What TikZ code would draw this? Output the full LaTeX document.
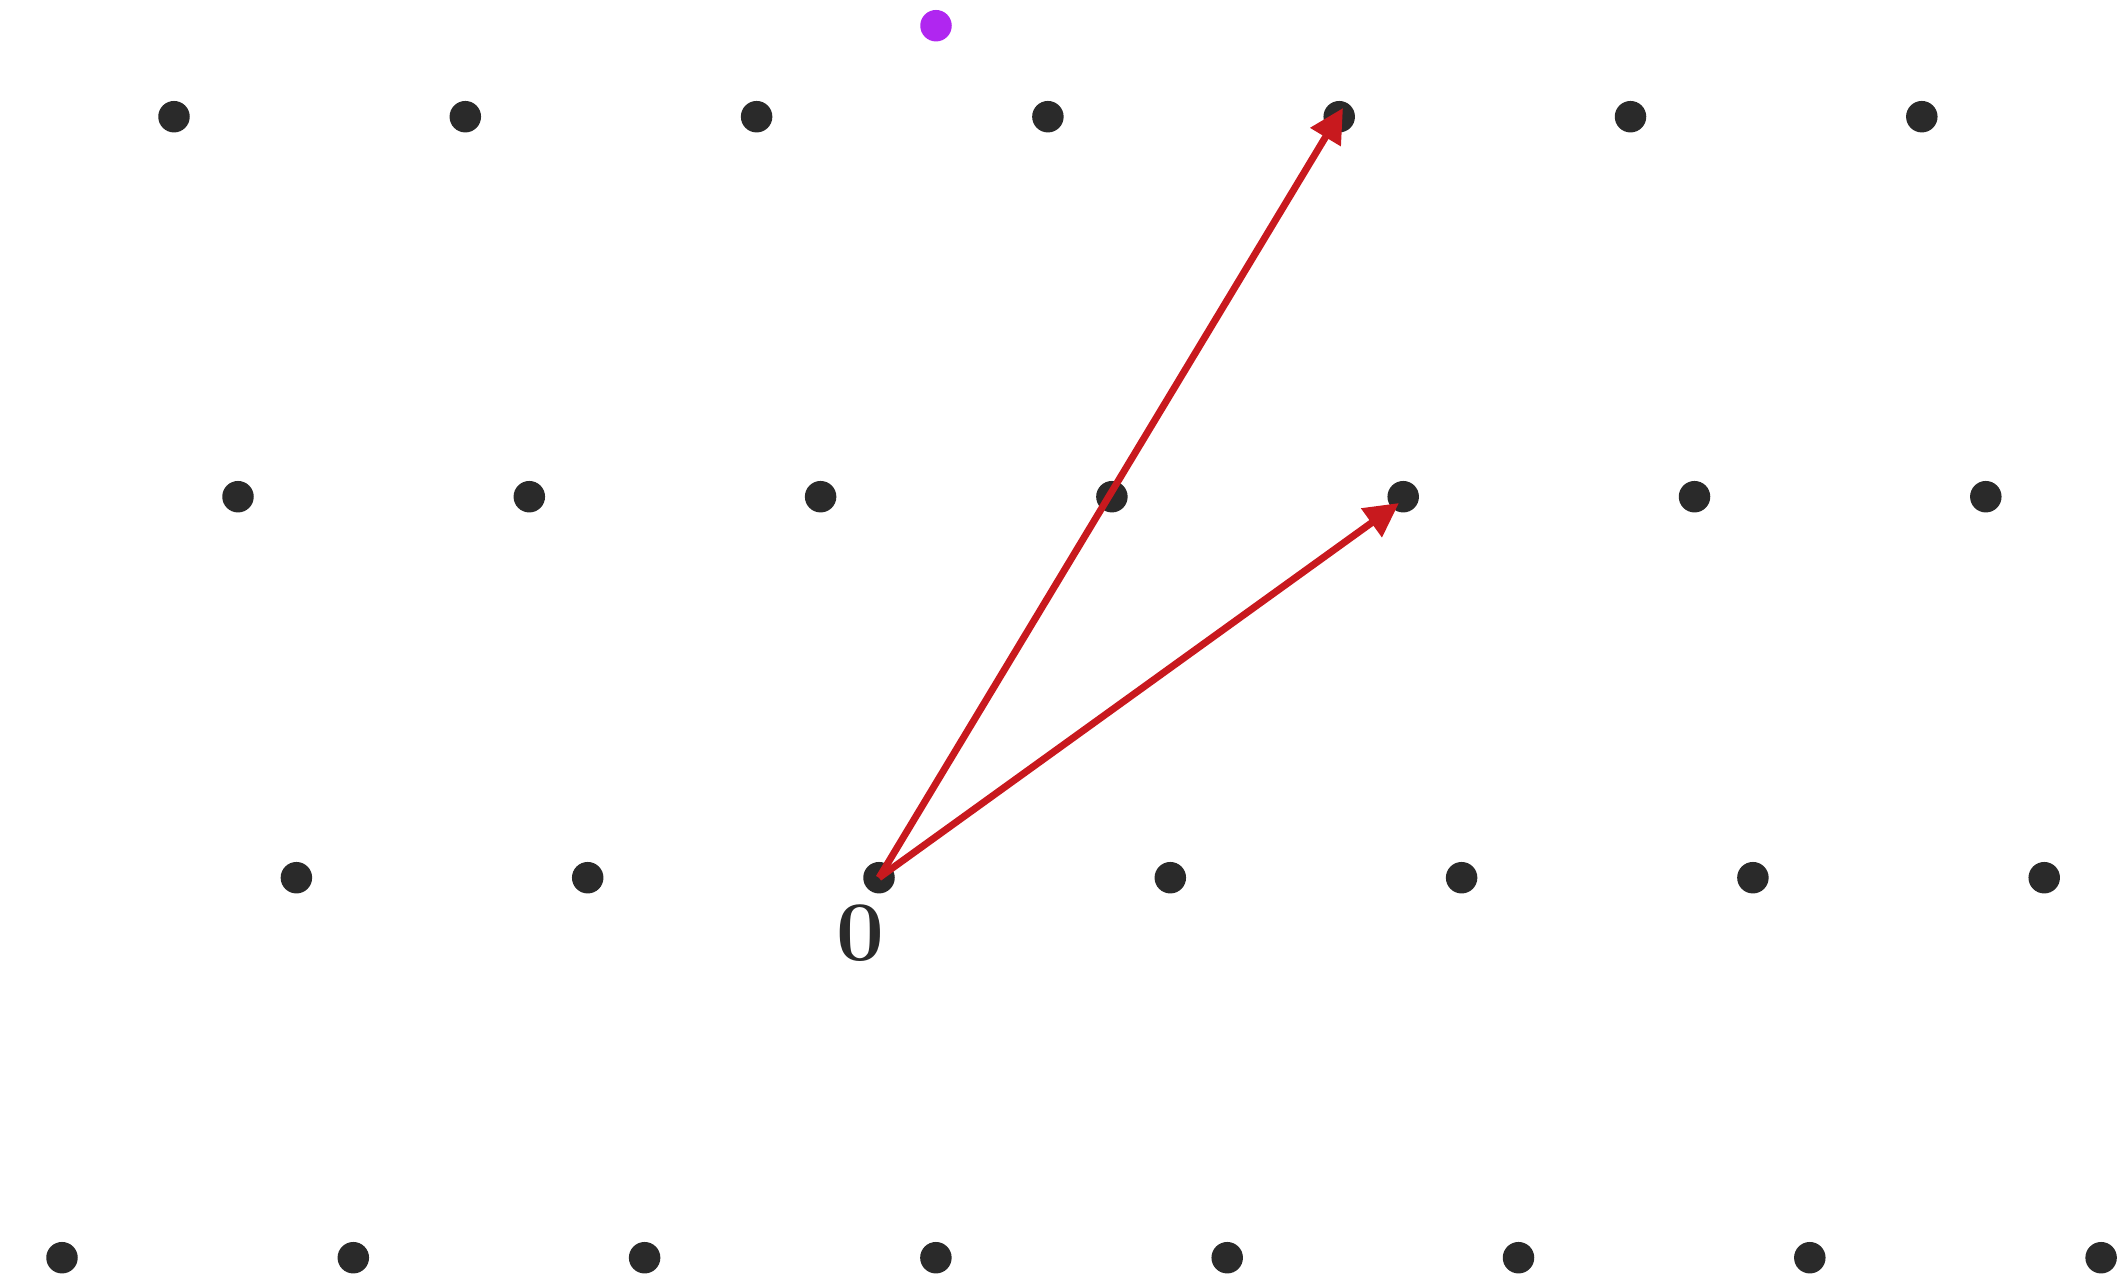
\documentclass[tikz,border=0pt]{standalone}
\usetikzlibrary{arrows.meta}
\definecolor{dotc}{HTML}{2A2A2A}
\definecolor{purp}{HTML}{B026F0}
\definecolor{arr}{HTML}{C8191E}
\begin{document}
\begin{tikzpicture}[x=1pt,y=-1pt,
  pt/.style={circle,fill=dotc,inner sep=0pt,minimum size=31.5pt},
  vec/.style={draw=arr,line width=7pt,-{Triangle[length=34pt,width=34pt]}}]
\useasboundingbox (0,0) rectangle (2117,1275);
% row 1
\foreach \i in {0,...,6} \node[pt] (a\i) at ({174+291.3*\i},116.7) {};
% row 2
\foreach \i in {0,...,6} \node[pt] (b\i) at ({238+291.3*\i},496.7) {};
% row 3
\foreach \i in {0,...,6} \node[pt] (c\i) at ({296.4+291.3*\i},877.7) {};
% row 4
\foreach \i in {0,...,7} \node[pt] (d\i) at ({62+291.3*\i},1257.7) {};
\node[pt,fill=purp] (t) at (936,25.7) {};
\node[text=dotc,font=\fontsize{85}{85}\selectfont\bfseries] (lab) at (860,933) {0};
\coordinate (tip1) at (1343,108);
\coordinate (tip2) at (1399,503);
\draw[vec] (c2.center) -- (tip1);
\draw[vec] (c2.center) -- (tip2);
\end{tikzpicture}
\end{document}
